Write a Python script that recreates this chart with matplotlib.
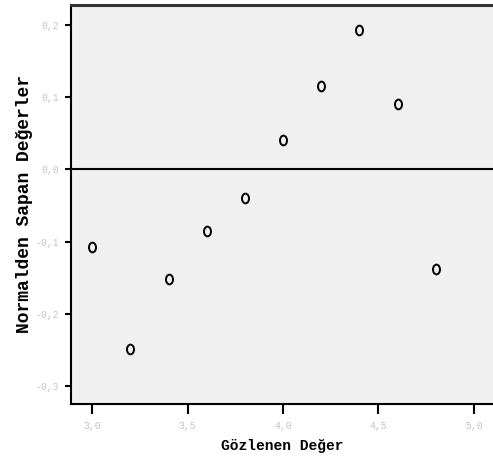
import matplotlib
matplotlib.use("Agg")
import matplotlib.pyplot as plt
from matplotlib.path import Path

# gözlenen değerler ve normalden sapmalar
gozlenen = [3.0, 3.2, 3.4, 3.6, 3.8, 4.0, 4.2, 4.4, 4.6, 4.8]
sapma = [-0.107, -0.249, -0.152, -0.085, -0.039, 0.041, 0.116, 0.194, 0.091, -0.138]

x_ticks = [3.0, 3.5, 4.0, 4.5, 5.0]
x_labels = ["3,0", "3,5", "4,0", "4,5", "5,0"]
y_ticks = [-0.3, -0.2, -0.1, 0.0, 0.1, 0.2]
y_labels = ["-0,3", "-0,2", "-0,1", "0,0", "0,1", "0,2"]

mono = "Liberation Mono"

# dikey elips işaretçi
circle = Path.unit_circle()
oval = Path(circle.vertices * [0.72, 1.0], circle.codes)

fig = plt.figure(figsize=(4.93, 4.71), dpi=100)
ax = fig.add_axes([0.144, 0.142, 0.856, 0.848])
ax.set_facecolor("#f0f0f0")

ax.axhline(0.0, color="black", lw=1.5, zorder=1)
ax.plot(gozlenen, sapma, linestyle="none", marker=oval, markersize=7,
        markerfacecolor="none", markeredgecolor="black", markeredgewidth=1.4, zorder=2)

ax.set_xlim(2.889, 5.1)
ax.set_ylim(-0.3254, 0.2285)

ax.set_xticks(x_ticks)
ax.set_xticklabels(x_labels, family=mono, fontsize=7, color="#c4c4c4")
ax.set_yticks(y_ticks)
ax.set_yticklabels(y_labels, family=mono, fontsize=7, color="#c4c4c4")
ax.tick_params(axis="x", direction="out", length=7, width=1.5, pad=5)
ax.tick_params(axis="y", direction="out", length=4.5, width=1.5, pad=4)

for side in ("left", "bottom"):
    ax.spines[side].set_linewidth(1.5)
ax.spines["top"].set_linewidth(2.2)
ax.spines["top"].set_color("#333333")
ax.spines["right"].set_visible(False)

ax.set_xlabel("Gözlenen Değer", family=mono, fontsize=10.5, fontweight="bold")
ax.xaxis.set_label_coords(0.5, -0.088)
ax.set_ylabel("Normalden Sapan Değerler", family=mono, fontsize=13, fontweight="bold")
ax.yaxis.set_label_coords(-0.09, 0.5)

fig.savefig("out.png", dpi=100, facecolor="white")
